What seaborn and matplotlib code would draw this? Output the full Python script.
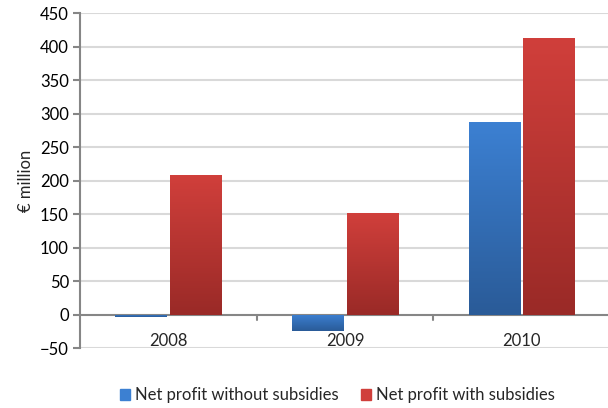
import numpy as np
import pandas as pd
import matplotlib
matplotlib.use("Agg")
import matplotlib.pyplot as plt
import matplotlib.transforms as mtransforms
from matplotlib.colors import LinearSegmentedColormap
import seaborn as sns

years = ["2008", "2009", "2010"]
without_subsidies = [-3, -24, 288]
with_subsidies = [208, 152, 413]
series = ["Net profit without subsidies", "Net profit with subsidies"]

# colour (top, bottom) for the gradient of each series
grad = {series[0]: ("#3c80d2", "#2a5b98"), series[1]: ("#d03f3b", "#9a2a27")}

df = pd.DataFrame({
    "year": years * 2,
    "value": without_subsidies + with_subsidies,
    "series": [series[0]] * 3 + [series[1]] * 3,
})

sns.set_style("white")
plt.rcParams["font.family"] = ["Lato", "DejaVu Sans"]

fig = plt.figure(figsize=(6.08, 4.08), dpi=100)
ax = fig.add_axes([0.1316, 0.147, 0.872, 0.821])

sns.barplot(data=df, x="year", y="value", hue="series", hue_order=series,
            palette=[grad[s][0] for s in series], width=0.62, gap=0.06,
            ax=ax, legend=False)

# gradient fill on every bar
for cont, s in zip(ax.containers, series):
    cmap = LinearSegmentedColormap.from_list(s, [grad[s][1], grad[s][0]])
    for p in cont.patches:
        x0, y0 = p.get_x(), p.get_y()
        w, h = p.get_width(), p.get_height()
        lo, hi = min(y0, y0 + h), max(y0, y0 + h)
        img = np.linspace(0, 1, 100).reshape(-1, 1)
        im = ax.imshow(img, cmap=cmap, origin="lower", aspect="auto",
                       extent=(x0, x0 + w, lo, hi), zorder=2)
        im.set_clip_path(p)
        p.set_alpha(0)
ax.set_xlim(-0.5, 2.5)
ax.set_ylim(-50, 450)
ax.set_yticks(range(-50, 451, 50))

# grid
for yv in range(-50, 451, 50):
    if yv != 0:
        ax.axhline(yv, color="#d9d9d9", lw=1.5, zorder=0)
ax.axhline(0, color="#868686", lw=1.5, zorder=1.5)

for sp in ["top", "right", "bottom"]:
    ax.spines[sp].set_visible(False)
ax.spines["left"].set_color("#868686")
ax.spines["left"].set_linewidth(1.5)

ax.tick_params(axis="y", direction="out", length=5, width=1.5, color="#868686",
               labelsize=12, labelcolor="black", pad=3, left=True)
ax.set_xticks([])
ax.set_xlabel("")
ax.set_ylabel("€ million", fontsize=12, labelpad=4)

# category boundary ticks hanging from zero line
for xb in [0.5, 1.5]:
    ax.plot([xb, xb], [0, -8], color="#868686", lw=1.5, zorder=1.5)

# category labels just under the zero line
lab_trans = mtransforms.offset_copy(ax.transData, fig=fig, y=-26, units="dots")
for i, yr in enumerate(years):
    ax.text(i, 0, yr, transform=lab_trans, ha="center", va="center", fontsize=12)

handles = [plt.Rectangle((0, 0), 1, 1, color=grad[s][0]) for s in series]
fig.legend(handles, series, loc="lower center", bbox_to_anchor=(0.555, -0.025),
           ncol=2, frameon=False, fontsize=12, handlelength=0.65, handleheight=0.65,
           handletextpad=0.3, columnspacing=1.3)

fig.savefig("out.png", dpi=100)
